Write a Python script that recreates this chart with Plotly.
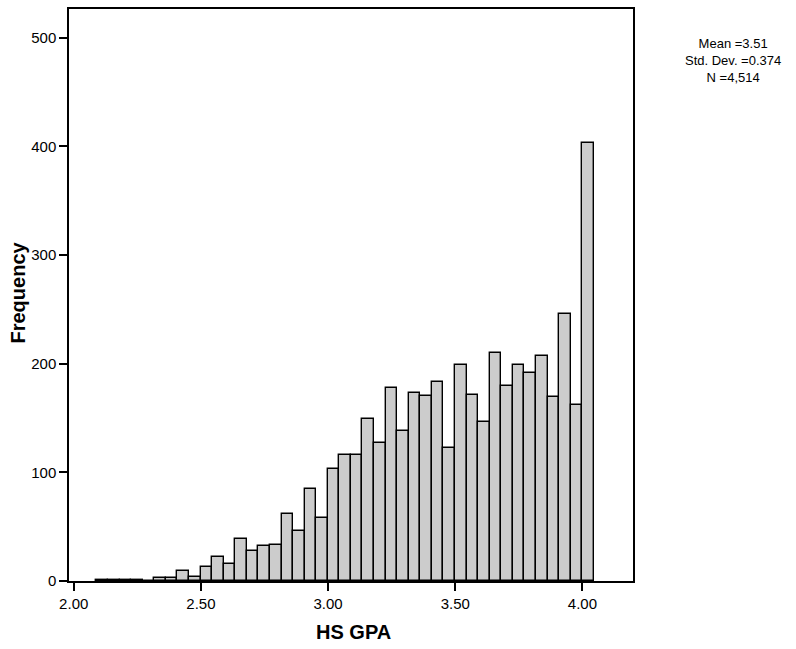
import numpy as np
import plotly.graph_objects as go

# Histogram of HS GPA (SPSS style)
BIN_START = 2.0893
BIN_WIDTH = 0.04548
counts = [1, 1, 1, 1, 0, 3, 3, 9, 4, 13, 22, 16, 39, 28, 32, 33, 62, 46, 85, 58,
          103, 116, 116, 149, 127, 178, 138, 173, 170, 183, 122, 199, 171, 146,
          210, 179, 199, 191, 207, 169, 246, 162, 403]
x_tick_vals = [2.0, 2.5, 3.0, 3.5, 4.0]
x_tick_text = ["2.00", "2.50", "3.00", "3.50", "4.00"]
y_tick_vals = [0, 100, 200, 300, 400, 500]
stats_lines = ["Mean =3.51", "Std. Dev. =0.374", "N =4,514"]

centers = BIN_START + BIN_WIDTH * (np.arange(len(counts)) + 0.5)

fig = go.Figure()
fig.add_trace(go.Bar(
    x=centers, y=counts, width=BIN_WIDTH,
    marker=dict(color="#cccccc", line=dict(color="#000000", width=1.4)),
    showlegend=False, hoverinfo="x+y",
))

FONT = "Liberation Sans, Arial, sans-serif"
W, H = 796, 649
L, R, T, B = 69, 163, 7, 68
ph = H - T - B

fig.update_layout(
    width=W, height=H,
    margin=dict(l=L, r=R, t=T, b=B, pad=0),
    plot_bgcolor="white", paper_bgcolor="white",
    font=dict(family=FONT, color="#000000", size=15),
    bargap=0,
    xaxis=dict(
        range=[1.9815, 4.199], tickvals=x_tick_vals, ticktext=x_tick_text,
        ticks="outside", ticklen=8, tickwidth=1.5, tickcolor="#000",
        showline=True, linecolor="#000", linewidth=1.5, mirror=True,
        showgrid=False, zeroline=False, tickfont=dict(size=15, family=FONT),
    ),
    yaxis=dict(
        range=[0, 526.3], tickvals=y_tick_vals,
        ticks="outside", ticklen=8, tickwidth=1.5, tickcolor="#000",
        showline=True, linecolor="#000", linewidth=1.5, mirror=True,
        showgrid=False, zeroline=False, tickfont=dict(size=15, family=FONT),
    ),
)

def py(ypix):
    return (H - B - ypix) / ph

def px(xpix):
    return (xpix - L) / (W - L - R)

annotations = [
    dict(text="<b>HS GPA</b>", x=px(353), y=py(632), xref="paper", yref="paper",
         xanchor="center", yanchor="middle", showarrow=False,
         font=dict(size=20, family=FONT)),
    dict(text="<b>Frequency</b>", x=px(18.5), y=py(292), xref="paper", yref="paper",
         xanchor="center", yanchor="middle", showarrow=False, textangle=-90,
         font=dict(size=20, family=FONT)),
    dict(text="<br>".join(stats_lines), x=px(733), y=py(58.5), xref="paper", yref="paper",
         xanchor="center", yanchor="middle", align="center", showarrow=False,
         font=dict(size=13, family=FONT)),
]
fig.update_layout(annotations=annotations)

fig.write_html("out.html", config={"displayModeBar": False},
               post_script="document.body.style.margin='0';document.body.style.padding='0';")
